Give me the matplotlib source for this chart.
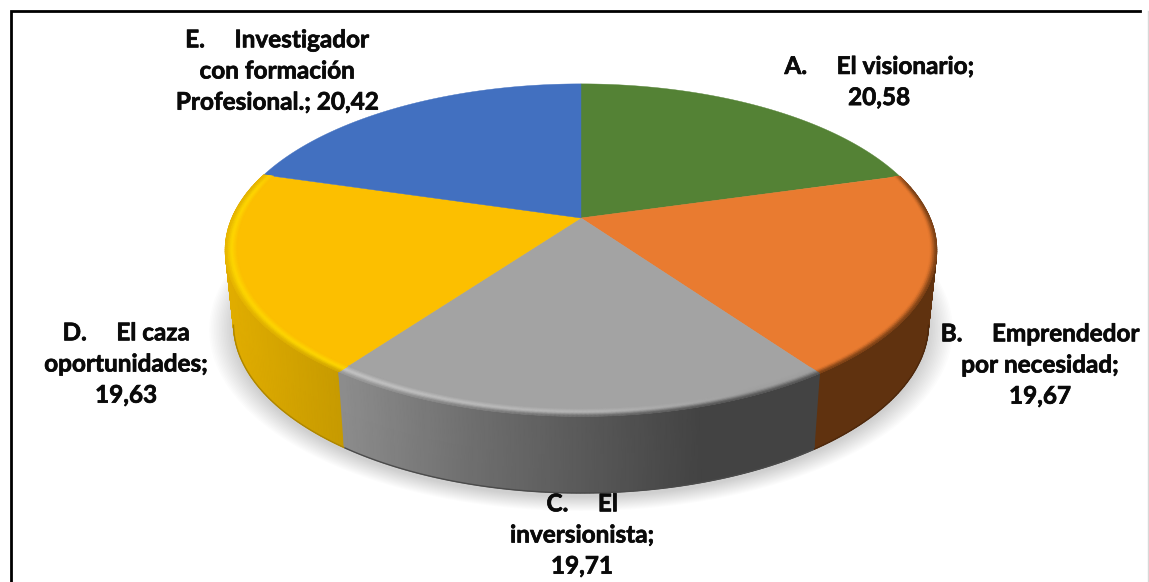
import matplotlib
matplotlib.use("Agg")
import matplotlib.pyplot as plt
import matplotlib.patheffects as pe
import numpy as np
from matplotlib.colors import to_rgb

plt.rcParams["font.family"] = ["Lato", "DejaVu Sans"]

# chart data
letters = ["A", "B", "C", "D", "E"]
values = [20.58, 19.67, 19.71, 19.63, 20.42]
label_lines = [
    "A.     El visionario;\n{v}",
    "B.     Emprendedor\npor necesidad;\n{v}",
    "C.     El\ninversionista;\n{v}",
    "D.     El caza\noportunidades;\n{v}",
    "E.     Investigador\ncon formación\nProfesional.; {v}",
]
face_colors = ["#548235", "#E97B30", "#A3A3A3", "#FCBF00", "#4270C0"]
label_x = [879, 1040, 582, 126, 277]
label_y = [82, 365, 535, 364, 71]

# perspective of the pie (pixels)
CX, CY = 581, 218
A_TOP, B_TOP, K = 349, 160, 0.193
A_LOW, CY_LOW, B_LOW = 341, 291, 163


def rim(theta, r=1.0, low=False):
    """Project pie angle (clockwise from 12 o'clock) to the picture."""
    u, v = r * np.sin(theta), r * np.cos(theta)
    w = 1 + K * v
    if low:
        return CX + A_LOW * u / w, CY_LOW - B_LOW * v / w
    return CX + A_TOP * u / w, CY - B_TOP * v / w


def mix(c0, c1, t):
    t = np.asarray(t)[..., None]
    return np.asarray(c0) * (1 - t) + np.asarray(c1) * t


def wall_color(i, x):
    """Side wall shade for slice i at picture position x."""
    if i == 1:
        px, cs = [812, 935], ["#60320F", "#60320F"]
    elif i == 2:
        px, cs = [345, 470, 600, 700, 812], ["#8C8C8C", "#6F6F6F", "#565656", "#434343", "#434343"]
    else:
        px, cs = [225, 345], ["#E2AE00", "#C69A00"]
    rgb = np.array([to_rgb(c) for c in cs])
    return np.stack([np.interp(x, px, rgb[:, k]) for k in range(3)], axis=-1)


def edge_color(i, x):
    """Bevel highlight just inside the rim."""
    if i == 1:
        return np.broadcast_to(to_rgb(face_colors[1]), np.shape(x) + (3,))
    if i == 2:
        g = np.interp(x, [342, 600, 760, 815], [0.78, 0.72, 0.62, 0.62])
        return np.stack([g, g, g], axis=-1)
    return np.broadcast_to(to_rgb("#FFD800"), np.shape(x) + (3,))


fig = plt.figure(figsize=(11.49, 5.82), dpi=100)
ax = fig.add_axes([0, 0, 1, 1])
ax.set_xlim(0, 1149)
ax.set_ylim(582, 0)
ax.axis("off")

edges = np.concatenate([[0], np.cumsum(values)]) / np.sum(values) * 2 * np.pi

# soft shadow under the pie
t_all = np.linspace(0, 2 * np.pi, 361)
for g in np.linspace(1.07, 1.0, 16):
    sx, sy = rim(t_all, low=True)
    ax.fill(CX + (sx - CX) * g, CY_LOW + 4 + (sy - CY_LOW) * g, color="black", alpha=0.011, lw=0, zorder=1)

# side walls, front slices only
s = np.linspace(0, 1, 2)
for i in [3, 1, 2]:
    th = np.linspace(edges[i], edges[i + 1], 120)
    xu, yu = rim(th)
    xl, yl = rim(th, low=True)
    X = xu[None, :] * (1 - s[:, None]) + xl[None, :] * s[:, None]
    Y = yu[None, :] * (1 - s[:, None]) + yl[None, :] * s[:, None]
    ax.pcolormesh(X, Y, wall_color(i, X), shading="gouraud", zorder=2)
    # dark foot of the wall, only where it is on the outline
    seen = np.cos(th) < -K
    ax.plot(xl[seen], yl[seen], color=wall_color(i, xl).mean(axis=0) * 0.8, lw=1,
            solid_capstyle="butt", zorder=2.1)

# top face
for i, c in enumerate(face_colors):
    th = np.linspace(edges[i], edges[i + 1], 120)
    px, py = rim(th)
    ax.fill(np.r_[CX, px], np.r_[CY, py], color=c, lw=0.3, zorder=3)

# bevel along the front rim
rr = np.linspace(0.968, 1.0, 8)
for i in [1, 2, 3]:
    th = np.linspace(edges[i], edges[i + 1], 120)
    TH, R = np.meshgrid(th, rr)
    X, Y = rim(TH, R)
    t = (R - rr[0]) / (rr[-1] - rr[0])
    front = np.clip((K + 0.22 - np.cos(TH)) / 0.22, 0, 1)
    face = np.broadcast_to(to_rgb(face_colors[i]), X.shape + (3,))
    c = mix(face, edge_color(i, X), np.clip(t * 2, 0, 1))
    c = mix(c, wall_color(i, X), np.clip(t * 2 - 1, 0, 1) * 0.85)
    c = mix(face, c, front)
    ax.pcolormesh(X, Y, c, shading="gouraud", zorder=4)

# data labels
for i, txt in enumerate(label_lines):
    val = f"{values[i]:.2f}".replace(".", ",")
    ax.text(label_x[i], label_y[i], txt.format(v=val), ha="center", va="center",
            fontsize=17.5, fontweight="bold", color="#0A0A0A", linespacing=1.43, zorder=6,
            path_effects=[pe.withStroke(linewidth=0.5, foreground="#0A0A0A")])

# frame of the original picture
ax.plot([10.5, 10.5, 1140], [582, 11, 11], color="black", lw=2, solid_joinstyle="miter", zorder=7)
ax.plot([1147.5, 1147.5], [11, 582], color="#D8D8D8", lw=1, zorder=7)

fig.savefig("out.png", dpi=100)
